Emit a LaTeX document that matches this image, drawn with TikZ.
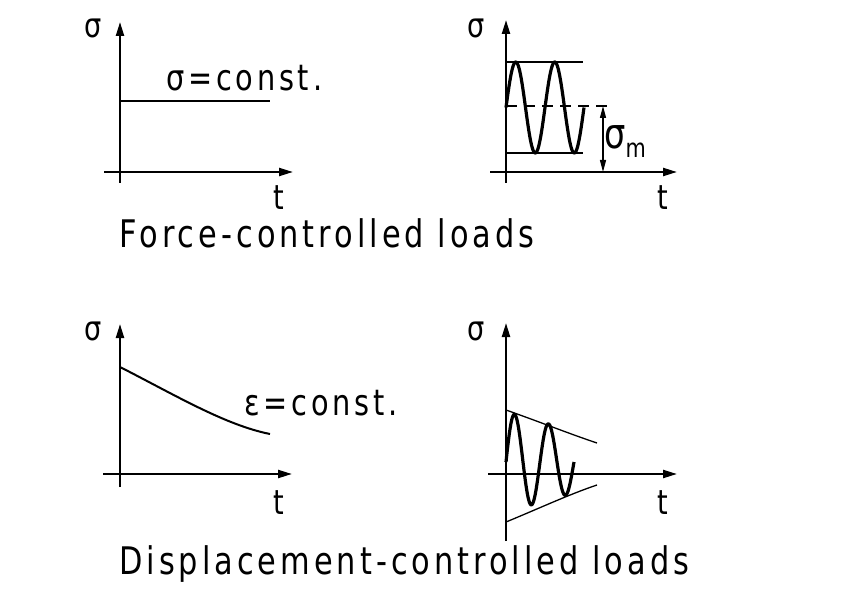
\documentclass[tikz,border=0pt]{standalone}
\usepackage{fontspec}
\setmainfont{DejaVu Sans}[FakeStretch=0.8,LetterSpace=10.5]
\usetikzlibrary{arrows.meta}
\tikzset{
  axis/.style={line width=2.2pt,-{Triangle[length=14pt,width=8pt]}},
  thinline/.style={line width=1.3pt},
  curve/.style={line width=3.2pt},
  lbl/.style={inner sep=0pt,font=\fontsize{34}{34}\selectfont},
  const/.style={inner sep=0pt,anchor=west,font=\fontsize{36}{36}\selectfont},
  title/.style={inner sep=0pt,anchor=west,font=\fontsize{38}{38}\selectfont},
}
\begin{document}
\begin{tikzpicture}[x=1pt,y=-1pt]
\useasboundingbox (0,0) rectangle (843,596);
% ---------- top left
\coordinate (a1b) at (120,183); \coordinate (a1t) at (120,22);
\coordinate (a1l) at (104,172); \coordinate (a1r) at (293,172);
\draw[axis] (a1b) -- (a1t);
\draw[axis] (a1l) -- (a1r);
\coordinate (c1a) at (120,101); \coordinate (c1b) at (270,101);
\draw[line width=2pt] (c1a) -- (c1b);
\node[lbl] (s1) at (93,28) {σ};
\node[lbl] (t1) at (279,198) {t};
\node[const] (k1) at (166,78) {σ=const.};
% ---------- top right
\coordinate (a2b) at (506,183); \coordinate (a2t) at (506,20);
\coordinate (a2l) at (490,172); \coordinate (a2r) at (677,172);
\draw[axis] (a2b) -- (a2t);
\draw[axis] (a2l) -- (a2r);
\coordinate (u2a) at (506,62); \coordinate (u2b) at (583,62);
\coordinate (l2a) at (506,153); \coordinate (l2b) at (583,153);
\draw[thinline] (u2a) -- (u2b);
\draw[thinline] (l2a) -- (l2b);
\coordinate (m2a) at (506,106); \coordinate (m2b) at (609,106);
\draw[thinline,dash pattern=on 11pt off 7pt] (m2a) -- (m2b);
\draw[curve,line join=round] plot[smooth,domain=506:584,samples=120] (\x,{107.5-45.5*sin((\x-506)/39*360)});
\coordinate (d2a) at (603,106); \coordinate (d2b) at (603,172);
\draw[line width=1.3pt,{Triangle[length=12pt,width=6pt]}-{Triangle[length=12pt,width=6pt]}] (d2a) -- (d2b);
\node[lbl] (s2) at (476,28) {σ};
\node[lbl] (t2) at (663,198) {t};
\node[inner sep=0pt,anchor=west,font=\fontsize{42}{42}\selectfont] (sm) at (604,142) {σ\raisebox{-9pt}{\fontsize{26}{26}\selectfont m}};
\node[title] (f1) at (119,233) {Force-controlled loads};
% ---------- bottom left
\coordinate (a3b) at (120,487); \coordinate (a3t) at (120,324);
\coordinate (a3l) at (103,474); \coordinate (a3r) at (292,474);
\draw[axis] (a3b) -- (a3t);
\draw[axis] (a3l) -- (a3r);
\coordinate (c3a) at (120,367); \coordinate (c3b) at (270,434);
\draw[line width=2pt] (c3a) .. controls (175,395) and (225,425) .. (c3b);
\node[lbl] (s3) at (93,331) {σ};
\node[lbl] (t3) at (279,503) {t};
\node[const] (k3) at (244,403) {ε=const.};
% ---------- bottom right
\coordinate (a4b) at (506,541); \coordinate (a4t) at (506,323);
\coordinate (a4l) at (488,474); \coordinate (a4r) at (677,474);
\draw[axis] (a4b) -- (a4t);
\draw[axis] (a4l) -- (a4r);
\coordinate (e4a) at (506,410); \coordinate (e4b) at (597,443);
\coordinate (f4a) at (506,522); \coordinate (f4b) at (597,485);
\draw[thinline] (e4a) .. controls (540,422) and (570,434) .. (e4b);
\draw[thinline] (f4a) .. controls (540,508) and (570,494) .. (f4b);
\draw[curve,line join=round] plot[smooth,domain=506:574,samples=120] (\x,{462-(50-0.28*(\x-506))*sin((\x-506)/34*360)});
\node[lbl] (s4) at (476,331) {σ};
\node[lbl] (t4) at (663,503) {t};
\node[title] (f2) at (119,564) {Displacement-controlled loads};
\end{tikzpicture}
\end{document}
